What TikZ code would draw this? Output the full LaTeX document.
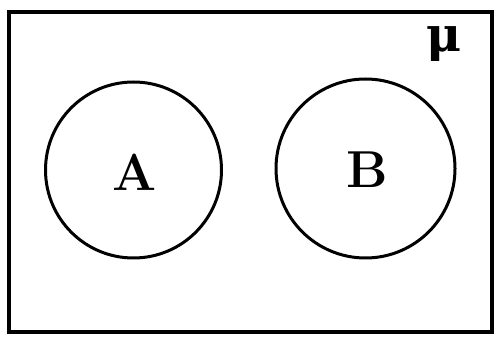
\documentclass[tikz,border=0pt]{standalone}
\usepackage{fontspec}
\newfontfamily\greekfont{DejaVu Serif}
\begin{document}
\begin{tikzpicture}[x=1pt,y=-1pt,
  setline/.style={line width=3pt},
  lbl/.style={font=\fontsize{52}{60}\selectfont\bfseries}]
\useasboundingbox (0,0) rectangle (500,344);
\node[draw,line width=4pt,minimum width=483pt,minimum height=320pt,inner sep=0pt] (U) at (250.5,172) {};
\node[draw,setline,circle,minimum size=176pt,inner sep=0pt] (A) at (133.5,170) {};
\node[draw,setline,circle,minimum size=179pt,inner sep=0pt] (B) at (365.5,168.5) {};
\node[lbl] (la) at (135,172) {A};
\node[lbl] (lb) at (367,170) {B};
\node[font=\fontsize{48}{54}\selectfont\greekfont\bfseries] (mu) at (444,44) {μ};
\end{tikzpicture}
\end{document}
